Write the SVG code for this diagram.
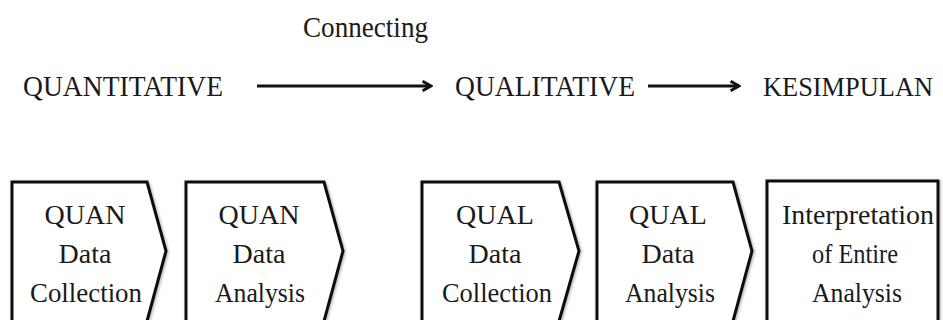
<svg xmlns="http://www.w3.org/2000/svg" width="943" height="320" viewBox="0 0 943 320">
  <style>
    text { font-family: "Liberation Serif", "Times New Roman", Times, "DejaVu Serif", serif; fill: #1a1a1a; }
    .top { font-size: 30px; }
    .box-text { font-size: 28px; text-anchor: middle; }
    .shape { fill: #ffffff; stroke: #111111; stroke-width: 3; stroke-linejoin: miter; filter: url(#soft); }
    .conn { stroke: #111111; stroke-width: 3; fill: none; marker-end: url(#head); }
  </style>
  <defs>
    <filter id="soft" x="-10%" y="-10%" width="120%" height="120%">
      <feDropShadow dx="1" dy="1" stdDeviation="1.6" flood-color="#000" flood-opacity="0.35"/>
    </filter>
    <marker id="head" viewBox="0 0 10 10" refX="8" refY="5" markerWidth="4" markerHeight="4" orient="auto" markerUnits="strokeWidth">
      <path d="M1,1 L8,5 L1,9" fill="none" stroke="#111111" stroke-width="2.4" stroke-linejoin="miter"/>
    </marker>
  </defs>
  <rect width="943" height="320" fill="#ffffff"/>

  <!-- top row: phases -->
  <g id="quantitative">
    <text class="top" x="23" y="96" textLength="200" lengthAdjust="spacingAndGlyphs">QUANTITATIVE</text>
  </g>
  <g id="qualitative">
    <text class="top" x="455" y="96" textLength="180" lengthAdjust="spacingAndGlyphs">QUALITATIVE</text>
  </g>
  <g id="kesimpulan">
    <text x="763" y="96" font-size="27" textLength="170" lengthAdjust="spacingAndGlyphs">KESIMPULAN</text>
  </g>

  <g id="connectors">
    <line class="conn" x1="257" y1="86" x2="431" y2="86"/>
    <line class="conn" x1="648" y1="86" x2="739" y2="86"/>
    <text class="top" x="303" y="37" textLength="125" lengthAdjust="spacingAndGlyphs">Connecting</text>
  </g>

  <!-- bottom row: procedure steps -->
  <g id="quan-collection">
    <polygon class="shape" points="12,182 147,182 166,251 146.5,323 12,323"/>
    <text class="box-text" x="85" y="224">QUAN</text>
    <text class="box-text" x="85" y="263">Data</text>
    <text class="box-text" x="86" y="302" textLength="112" lengthAdjust="spacingAndGlyphs">Collection</text>
  </g>
  <g id="quan-analysis">
    <polygon class="shape" points="186,182 324,182 343,251 323.5,323 186,323"/>
    <text class="box-text" x="259" y="224">QUAN</text>
    <text class="box-text" x="259" y="263">Data</text>
    <text class="box-text" x="260" y="302" textLength="90" lengthAdjust="spacingAndGlyphs">Analysis</text>
  </g>
  <g id="qual-collection">
    <polygon class="shape" points="422,182 559,182 579,251 558.5,323 422,323"/>
    <text class="box-text" x="495" y="224">QUAL</text>
    <text class="box-text" x="495" y="263">Data</text>
    <text class="box-text" x="497" y="302" textLength="110" lengthAdjust="spacingAndGlyphs">Collection</text>
  </g>
  <g id="qual-analysis">
    <polygon class="shape" points="597,182 733,182 752,251 732.5,323 597,323"/>
    <text class="box-text" x="668" y="224">QUAL</text>
    <text class="box-text" x="668" y="263">Data</text>
    <text class="box-text" x="670" y="302" textLength="90" lengthAdjust="spacingAndGlyphs">Analysis</text>
  </g>
  <g id="interpretation">
    <rect class="shape" x="767" y="181" width="171" height="142"/>
    <text class="box-text" x="858" y="224" textLength="152" lengthAdjust="spacingAndGlyphs">Interpretation</text>
    <text class="box-text" x="855" y="263" textLength="86" lengthAdjust="spacingAndGlyphs">of Entire</text>
    <text class="box-text" x="857" y="302" textLength="90" lengthAdjust="spacingAndGlyphs">Analysis</text>
  </g>
</svg>
